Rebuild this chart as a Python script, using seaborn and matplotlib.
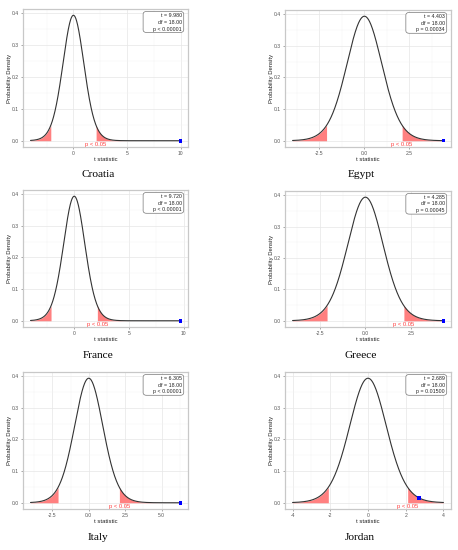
import math
import numpy as np
import pandas as pd
import matplotlib
matplotlib.use("Agg")
import matplotlib.pyplot as plt
from matplotlib.ticker import MultipleLocator, FormatStrFormatter
from matplotlib.patches import FancyBboxPatch
import seaborn as sns

countries = ["Croatia", "Egypt", "France", "Greece", "Italy", "Jordan"]
t_values = [9.980, 4.403, 9.720, 4.285, 6.305, 2.689]
df_values = [18.00, 18.00, 18.00, 18.00, 18.00, 18.00]
p_labels = ["p < 0.00001", "p = 0.00034", "p < 0.00001", "p = 0.00045", "p < 0.00001", "p = 0.01500"]
x_tick_steps = [5, 2.5, 5, 2.5, 2.5, 2]
t_crit = 2.100922
x_start = -4.0

sns.set_theme(style="white")
plt.rcParams['font.family'] = ['Liberation Sans', 'DejaVu Sans']

W, H = 458, 550
fig = plt.figure(figsize=(W / 100, H / 100), dpi=100)

# panel boxes in pixels: left, top, right, bottom
boxes = [(23, 9, 188, 147), (285, 10, 451, 147),
         (23, 190, 188, 327), (285, 191, 451, 327),
         (23, 372, 188, 509), (285, 372, 451, 509)]
captions_xy = [(98, 175), (361, 175), (98, 356), (361, 356), (98, 538), (360, 538)]


def tpdf(x, nu):
    c = math.gamma((nu + 1) / 2) / (math.sqrt(nu * math.pi) * math.gamma(nu / 2))
    return c * (1 + x ** 2 / nu) ** (-(nu + 1) / 2)


for i, name in enumerate(countries):
    l, t, r, b = boxes[i]
    ax = fig.add_axes([l / W, 1 - b / H, (r - l) / W, (b - t) / H])
    tv = t_values[i]
    nu = df_values[i]
    x_end = max(4.0, tv)
    xs = np.linspace(x_start, x_end, 600)
    d = pd.DataFrame({"x": xs, "y": tpdf(xs, nu)})

    lo = d[d.x <= -t_crit]
    hi = d[d.x >= t_crit]
    ax.fill_between(lo.x, 0, lo.y, color="#FF8080", lw=0, zorder=2)
    ax.fill_between(hi.x, 0, hi.y, color="#FF8080", lw=0, zorder=2)
    sns.lineplot(data=d, x="x", y="y", ax=ax, color="#333333", lw=0.8, zorder=3)
    pt = pd.DataFrame({"x": [tv], "y": [tpdf(tv, nu)]})
    sns.scatterplot(data=pt, x="x", y="y", ax=ax, color="blue", s=7, marker="s",
                    edgecolor="none", zorder=4)

    ymax = tpdf(0, nu)
    xr = x_end - x_start
    ax.set_xlim(x_start - 0.05 * xr, x_end + 0.05 * xr)
    ax.set_ylim(-0.05 * ymax, ymax * 1.05)

    ax.text(t_crit, -0.0125, "p < 0.05", color="#FF4040", fontsize=4.2,
            ha="center", va="center", zorder=5)

    # stats box
    box = FancyBboxPatch((0.728, 0.83), 0.246, 0.152, transform=ax.transAxes,
                         boxstyle="round,pad=0,rounding_size=0.02",
                         fc="white", ec="#777777", lw=0.5, zorder=6)
    ax.add_patch(box)
    lines = [f"t = {tv:.3f}", f"df = {nu:.2f}", p_labels[i]]
    for yy, s in zip([0.955, 0.905, 0.855], lines):
        ax.text(0.962, yy, s, transform=ax.transAxes, ha="right", va="center",
                fontsize=3.8, color="#222222", zorder=7)

    step = x_tick_steps[i]
    ax.xaxis.set_major_locator(MultipleLocator(step))
    ax.xaxis.set_minor_locator(MultipleLocator(step / 2))
    ax.yaxis.set_major_locator(MultipleLocator(0.1))
    ax.yaxis.set_minor_locator(MultipleLocator(0.05))
    if step in (5, 2):
        ax.xaxis.set_major_formatter(FormatStrFormatter("%d"))
    else:
        ax.xaxis.set_major_formatter(FormatStrFormatter("%.1f"))
    ax.yaxis.set_major_formatter(FormatStrFormatter("%.1f"))

    ax.grid(True, which="major", color="#E6E6E6", lw=0.5, zorder=0)
    ax.grid(True, which="minor", color="#F2F2F2", lw=0.3, zorder=0)
    ax.set_axisbelow(True)
    for s in ax.spines.values():
        s.set_color("#C8C8C8")
        s.set_linewidth(0.9)
    ax.tick_params(axis="both", which="major", length=1.5, width=0.4, color="#666666",
                   labelsize=3.6, labelcolor="#555555", pad=1.2, bottom=True, left=True)
    ax.tick_params(which="minor", length=0)
    ax.set_xlabel("t statistic", fontsize=4.2, color="#222222", labelpad=0.8)
    ax.set_ylabel("Probability Density", fontsize=4.2, color="#222222", labelpad=0.3)

    cx, cy = captions_xy[i]
    fig.text(cx / W, 1 - cy / H, name, ha="center", va="center",
             fontsize=8.2, family=["Liberation Serif", "DejaVu Serif"], color="black")

fig.savefig("out.png", dpi=100, facecolor="white")
